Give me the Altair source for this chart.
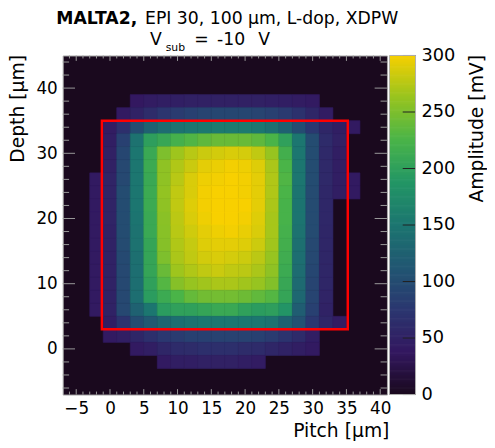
import altair as alt
import pandas as pd

FONT = "DejaVu Sans"

# ---------------- data ----------------
x_centers = list(range(-2, 37, 2))      # bin centres, 2 um bins
y_centers = list(range(38, -3, -2))     # rows from top (38) to bottom (-2)
bin_half = 1

amplitude = [
    [0, 0, 0, 38, 42, 45, 46, 48, 48, 48, 48, 48, 48, 46, 45, 42, 40, 0, 0, 0],
    [0, 0, 40, 50, 62, 72, 80, 85, 90, 92, 92, 92, 90, 85, 78, 68, 55, 42, 0, 0],
    [0, 42, 65, 100, 125, 138, 145, 150, 152, 155, 155, 155, 150, 142, 125, 100, 75, 55, 45, 40],
    [0, 45, 85, 145, 198, 208, 220, 228, 235, 240, 240, 240, 235, 225, 200, 150, 100, 60, 48, 0],
    [0, 48, 92, 150, 210, 250, 265, 275, 282, 285, 288, 286, 278, 262, 218, 150, 100, 58, 45, 0],
    [0, 48, 95, 150, 212, 258, 272, 282, 292, 295, 298, 296, 290, 270, 225, 150, 100, 58, 45, 0],
    [40, 52, 95, 150, 210, 258, 275, 288, 296, 298, 300, 298, 292, 272, 228, 150, 100, 58, 45, 40],
    [40, 52, 100, 150, 212, 260, 278, 288, 298, 300, 300, 298, 292, 272, 225, 148, 98, 56, 45, 40],
    [40, 52, 100, 150, 212, 258, 278, 290, 298, 300, 300, 300, 292, 270, 222, 148, 98, 56, 0, 0],
    [40, 52, 100, 148, 210, 256, 276, 288, 296, 300, 300, 298, 290, 268, 222, 148, 98, 56, 0, 0],
    [40, 50, 100, 145, 210, 255, 275, 284, 292, 296, 298, 294, 288, 268, 220, 145, 98, 55, 0, 0],
    [40, 50, 98, 145, 205, 254, 272, 280, 290, 292, 292, 290, 283, 266, 218, 142, 95, 55, 0, 0],
    [40, 50, 96, 142, 205, 250, 270, 278, 285, 288, 286, 283, 276, 262, 215, 140, 95, 55, 0, 0],
    [40, 50, 95, 140, 205, 240, 265, 272, 278, 282, 278, 276, 270, 258, 212, 138, 92, 54, 0, 0],
    [40, 50, 95, 140, 200, 230, 254, 262, 266, 270, 270, 266, 262, 252, 208, 135, 90, 54, 0, 0],
    [40, 50, 95, 140, 195, 212, 225, 238, 244, 245, 245, 242, 236, 230, 205, 132, 90, 52, 0, 0],
    [40, 50, 95, 125, 150, 195, 200, 200, 205, 210, 210, 200, 195, 198, 185, 120, 85, 50, 0, 0],
    [0, 45, 70, 100, 115, 130, 140, 145, 150, 150, 150, 150, 150, 145, 125, 105, 75, 55, 42, 0],
    [0, 40, 45, 55, 65, 75, 80, 85, 85, 88, 88, 88, 85, 80, 70, 60, 45, 0, 0, 0],
    [0, 0, 0, 40, 45, 55, 60, 62, 65, 65, 65, 62, 60, 55, 50, 45, 40, 0, 0, 0],
    [0, 0, 0, 0, 0, 40, 45, 45, 48, 48, 48, 45, 42, 0, 0, 0, 0, 0, 0, 0],
]

box_x = [-1.2, 35.2]
box_y = [3, 35]

x_major = [-5, 0, 5, 10, 15, 20, 25, 30, 35, 40]
x_minor = [v for v in range(-6, 41) if v % 5 != 0]
y_major = [0, 10, 20, 30, 40]
y_minor = [v for v in range(-6, 45, 2) if v % 10 != 0]
cb_ticks = [0, 50, 100, 150, 200, 250, 300]

x_domain = [-7, 41]
y_domain = [-7, 45]
z_domain = [0, 300]

# ROOT kViridis-like palette
pal_stops = [0, 37.5, 75, 112.5, 150, 187.5, 225, 262.5, 300]
pal_colors = ["#1a091e", "#331860", "#2b3770", "#215772", "#1c7670",
              "#239665", "#4ab448", "#98c41f", "#f8d000"]

# ---------------- build tables ----------------
cells = []
for yi, yc in enumerate(y_centers):
    for xi, xc in enumerate(x_centers):
        a = amplitude[yi][xi]
        if a > 0:
            cells.append({"x0": xc - bin_half, "x1": xc + bin_half,
                          "y0": yc - bin_half, "y1": yc + bin_half, "amp": a})
cells_df = pd.DataFrame(cells)

W, H = 329, 344
xs = alt.Scale(domain=x_domain, nice=False, zero=False)
ys = alt.Scale(domain=y_domain, nice=False, zero=False)
cs = alt.Scale(domain=pal_stops, range=pal_colors, interpolate="rgb")
zs = alt.Scale(domain=z_domain, nice=False, zero=False)

TICK = "#9a9a9a"

x_axis = alt.Axis(
    values=x_major,
    labelExpr="datum.value < 0 ? '\u2212' + abs(datum.value) : datum.label",
    ticks=False, tickSize=0, domain=False, grid=False,
    labelFontSize=17, labelPadding=6,
    title="Pitch [\u00b5m]", titleFontSize=19,
    titleX=331, titleY=43, titleAlign="right", titleBaseline="alphabetic")
y_axis = alt.Axis(
    values=y_major, ticks=False, tickSize=0, domain=False, grid=False,
    labelFontSize=17, labelPadding=5.5,
    title="Depth [\u00b5m]", titleFontSize=19, titleAngle=270,
    titleAlign="right", titleBaseline="alphabetic", titleX=-39.5, titleY=-1)

CB0, CB1 = 331.5, 358
z_axis = alt.Axis(
    orient="right", offset=CB1 - W, values=cb_ticks,
    ticks=False, tickSize=0, domain=False, grid=False,
    labelFontSize=18, labelPadding=5.5,
    title="Amplitude [mV]", titleFontSize=19, titleAngle=270,
    titleAlign="right", titleBaseline="alphabetic", titleX=68, titleY=-1)

heat = alt.Chart(cells_df).mark_rect(strokeWidth=0.6).encode(
    x=alt.X("x0:Q", scale=xs, axis=x_axis),
    x2="x1:Q",
    y=alt.Y("y0:Q", scale=ys, axis=y_axis),
    y2="y1:Q",
    color=alt.Color("amp:Q", scale=cs, legend=None),
    stroke=alt.Stroke("amp:Q", scale=cs, legend=None),
)

box = alt.Chart(alt.Data(values=[{"bx0": box_x[0], "bx1": box_x[1],
                                  "by0": box_y[0], "by1": box_y[1]}])).mark_rect(
    fillOpacity=0, stroke="#ff0000", strokeWidth=2.5).encode(
    x=alt.X("bx0:Q", scale=xs, axis=x_axis), x2="bx1:Q",
    y=alt.Y("by0:Q", scale=ys, axis=y_axis), y2="by1:Q")


def xticks(vals, length):
    d = alt.Data(values=[{"v": v} for v in vals])
    bot = alt.Chart(d).mark_rule(color=TICK, strokeWidth=1).encode(
        x=alt.X("v:Q", scale=xs, axis=x_axis), y=alt.value(H), y2=alt.value(H - length))
    top = alt.Chart(d).mark_rule(color=TICK, strokeWidth=1).encode(
        x=alt.X("v:Q", scale=xs, axis=x_axis), y=alt.value(0), y2=alt.value(length))
    return [bot, top]


def yticks(vals, length):
    d = alt.Data(values=[{"v": v} for v in vals])
    left = alt.Chart(d).mark_rule(color=TICK, strokeWidth=1).encode(
        y=alt.Y("v:Q", scale=ys, axis=y_axis), x=alt.value(0), x2=alt.value(length))
    right = alt.Chart(d).mark_rule(color=TICK, strokeWidth=1).encode(
        y=alt.Y("v:Q", scale=ys, axis=y_axis), x=alt.value(W), x2=alt.value(W - length))
    return [left, right]


def txt(s, x, y, size=17.5, weight="normal", align="left"):
    return alt.Chart(alt.Data(values=[{"k": 0}])).mark_text(
        text=s, font=FONT, fontSize=size, fontWeight=weight, align=align,
        baseline="alphabetic", color="black").encode(x=alt.value(x), y=alt.value(y))


titles = [
    txt("MALTA2,", -6.5, -31.5, weight="bold"),
    txt("EPI 30, 100 \u00b5m, L-dop, XDPW", 83.5, -31.5),
    txt("V", 88.5, -11),
    txt("sub", 104.5, -4.5, size=11),
    txt("=", 133.5, -11),
    txt("-10", 156.5, -11),
    txt("V", 198.5, -11),
]

main = alt.layer(heat, box, *xticks(x_minor, 3), *xticks(x_major, 5.5),
                 *yticks(y_minor, 6.5), *yticks(y_major, 12.5), *titles)

# ---------------- colour bar ----------------
cb_rects = alt.Chart(alt.sequence(0, 300, 1, as_="v")).transform_calculate(
    v2="min(datum.v + 1.6, 300)").mark_rect().encode(
    x=alt.value(CB0), x2=alt.value(CB1),
    y=alt.Y("v:Q", scale=zs, axis=z_axis),
    y2="v2:Q",
    color=alt.Color("v:Q", scale=cs, legend=None),
)
cb_tick_marks = alt.Chart(alt.Data(values=[{"v": t} for t in cb_ticks])).mark_rule(
    color="#222222", strokeWidth=1).encode(
    y=alt.Y("v:Q", scale=zs, axis=z_axis), x=alt.value(CB1 - 13), x2=alt.value(CB1))
cb_frame = alt.Chart(alt.Data(values=[{"v": 0, "b": 300}])).mark_rect(
    fillOpacity=0, stroke="#b0b0b0", strokeWidth=1).encode(
    x=alt.value(CB0), x2=alt.value(CB1),
    y=alt.Y("v:Q", scale=zs, axis=z_axis), y2="b:Q")

cbar = alt.layer(cb_rects, cb_tick_marks, cb_frame)

chart = alt.layer(main, cbar).resolve_scale(y="independent").properties(
    width=W, height=H,
    autosize=alt.AutoSizeParams(type="none"),
    padding={"left": 55.5, "top": 45, "right": 101.5, "bottom": 48},
).configure_view(
    fill="#1a091e", stroke="#a8a8a8", strokeWidth=1
).configure_axis(
    labelFont=FONT, titleFont=FONT, labelColor="black", titleColor="black",
    titleFontWeight="normal"
)

chart.save("out.html", embed_options={"renderer": "svg", "actions": False})
